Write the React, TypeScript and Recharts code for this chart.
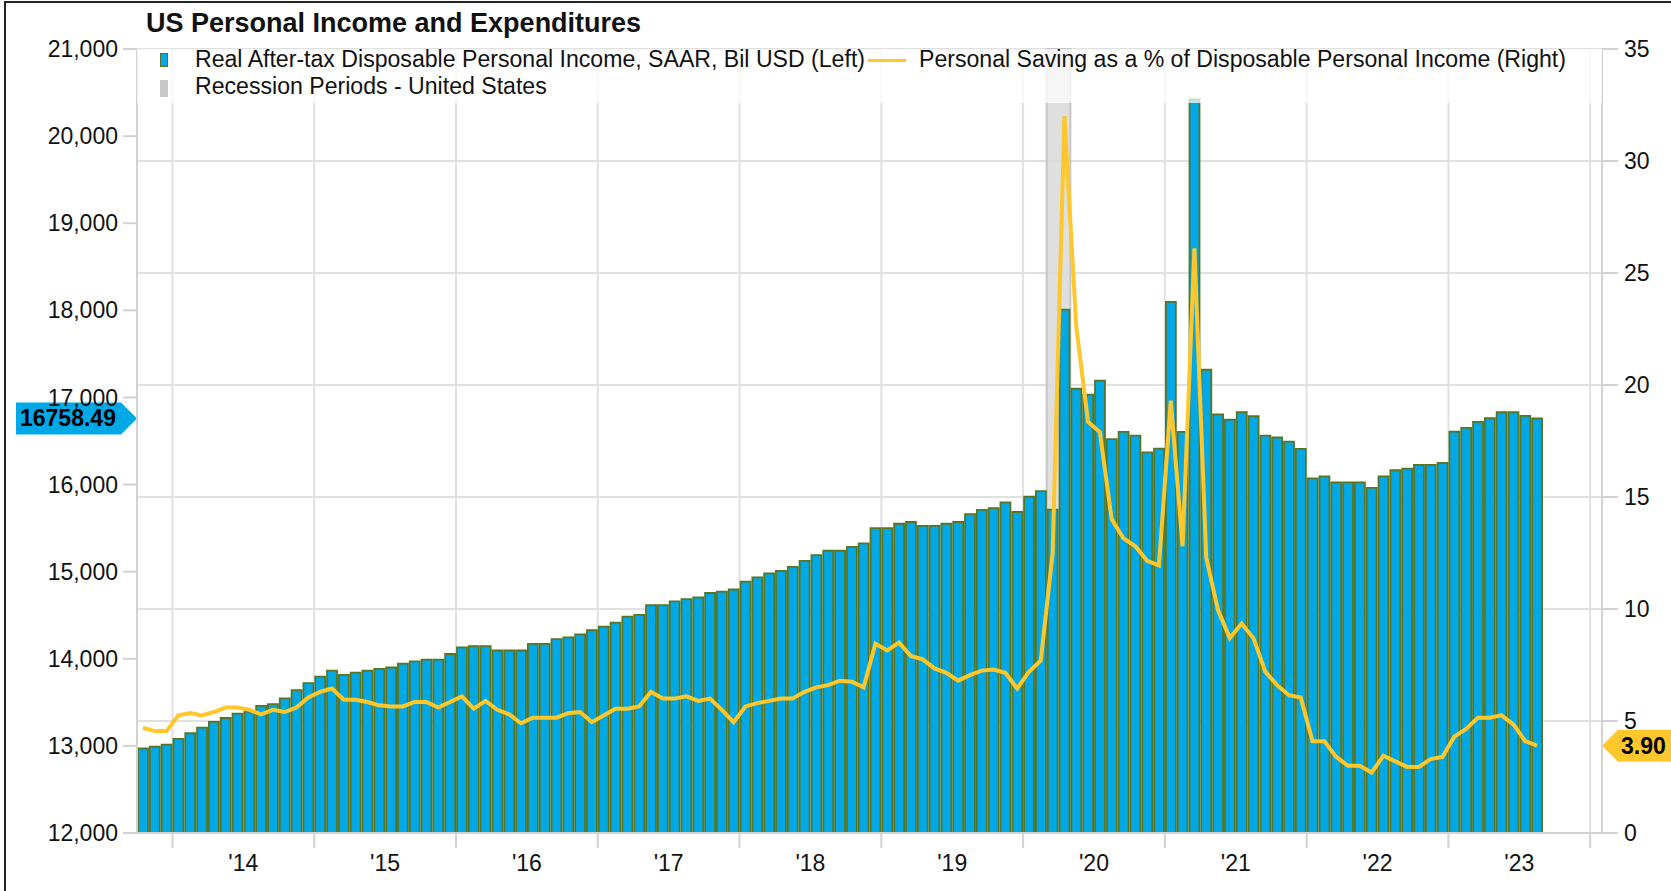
import {
  Bar,
  CartesianGrid,
  ComposedChart,
  Line,
  ReferenceArea,
  ReferenceLine,
  XAxis,
  YAxis,
} from "recharts";

const FONT = '"Liberation Sans", Arial, Helvetica, sans-serif';

// monthly series, first bar is Oct 2013, last is Aug 2023
const START_YEAR = 2013;
const START_MONTH = 10;

// Real after-tax disposable personal income, SAAR, bil USD (left axis)
const incomeValues = [
  12970, 12990, 13015,
  13080, 13145, 13210, 13275, 13320, 13370, 13390, 13460, 13480, 13545, 13640, 13720,
  13795, 13865, 13815, 13840, 13865, 13885, 13900, 13945, 13970, 13990, 13990, 14055,
  14130, 14145, 14145, 14095, 14095, 14095, 14170, 14170, 14225, 14245, 14280, 14330,
  14370, 14415, 14485, 14505, 14615, 14615, 14660, 14685, 14705, 14755, 14770, 14795,
  14885, 14935, 14980, 15010, 15055, 15125, 15190, 15240, 15240, 15285, 15325, 15500,
  15500, 15550, 15570, 15525, 15525, 15550, 15570, 15660, 15710, 15730, 15795, 15685,
  15860, 15925, 15713, 18009, 17100, 17033, 17192, 16522, 16605, 16561, 16369, 16412,
  18096, 16605, 20420, 17318, 16806, 16745, 16832, 16784, 16561, 16540, 16493, 16409,
  16072, 16095, 16026, 16026, 16026, 15961, 16095, 16164, 16183, 16225, 16225, 16248,
  16607, 16650, 16719, 16761, 16830, 16830, 16788, 16758.49,
];

// Personal saving as % of disposable personal income (right axis)
const savingValues = [
  4.7, 4.55, 4.55,
  5.25, 5.35, 5.25, 5.4, 5.6, 5.6, 5.5, 5.3, 5.5, 5.4, 5.6, 6.05,
  6.3, 6.45, 5.95, 5.95, 5.85, 5.7, 5.65, 5.65, 5.85, 5.85, 5.6, 5.85,
  6.1, 5.55, 5.9, 5.5, 5.3, 4.9, 5.15, 5.15, 5.15, 5.35, 5.4, 4.95,
  5.25, 5.55, 5.55, 5.65, 6.3, 6.0, 6.0, 6.1, 5.9, 6.0, 5.5, 4.95,
  5.65, 5.8, 5.9, 6.0, 6.0, 6.3, 6.5, 6.6, 6.8, 6.75, 6.5, 8.45,
  8.15, 8.5, 7.9, 7.75, 7.35, 7.15, 6.8, 7.05, 7.25, 7.3, 7.15, 6.45,
  7.2, 7.7, 12.5, 32.0, 22.6, 18.35, 17.9, 14.0, 13.15, 12.8, 12.15, 11.95,
  19.3, 12.8, 26.1, 12.3, 9.95, 8.7, 9.35, 8.7, 7.2, 6.6, 6.15, 6.05,
  4.1, 4.1, 3.4, 3.0, 3.0, 2.7, 3.45, 3.2, 2.95, 2.95, 3.3, 3.4,
  4.3, 4.65, 5.15, 5.15, 5.25, 4.85, 4.1, 3.9,
];

const leftTicks = [12000, 13000, 14000, 15000, 16000, 17000, 18000, 19000, 20000, 21000];
const rightTicks = [0, 5, 10, 15, 20, 25, 30, 35];
const yearLabels = ["'14", "'15", "'16", "'17", "'18", "'19", "'20", "'21", "'22", "'23"];

// shaded recession months
const recessionMonths = ["2020-03", "2020-04"];

// the time axis runs a few months past the last bar
const AXIS_MONTHS = 124;

const W = 1671;
const H = 891;
const TOP = 49;
const LEFT_W = 137;
const RIGHT_W = 69;
const X_AXIS_H = 58;
const MONTH_PX = (W - LEFT_W - RIGHT_W) / AXIS_MONTHS;

const monthKeys = incomeValues.map((_, i) => {
  const m = START_MONTH - 1 + i;
  return `${START_YEAR + Math.floor(m / 12)}-${String((m % 12) + 1).padStart(2, "0")}`;
});

const data = incomeValues.map((income, i) => ({
  x: i + 0.5,
  month: monthKeys[i],
  income,
  saving: savingValues[i],
}));

const firstJan = 12 - START_MONTH + 1;
const yearStarts = [
  ...yearLabels.map((_, i) => firstJan + 12 * i),
  firstJan + 12 * yearLabels.length,
];

const recessionFrom = monthKeys.indexOf(recessionMonths[0]);
const recessionTo = monthKeys.indexOf(recessionMonths[recessionMonths.length - 1]) + 1;

const lastIncome = incomeValues[incomeValues.length - 1];
const lastSaving = savingValues[savingValues.length - 1];

const BLUE = "#00a9e6";
const OLIVE = "#567526";
const YELLOW = "#ffc72c";
const GRID = "#e0e0e0";
const AXIS = "#d2d2d2";

function YearTick(props: any) {
  const { x, y, payload } = props;
  const label = yearLabels[yearStarts.indexOf(payload.value)];
  if (!label) return null;
  return (
    <text
      x={x + MONTH_PX * 6}
      y={y + 21}
      textAnchor="middle"
      fontSize={23}
      fontFamily={FONT}
      fill="#111"
    >
      {label}
    </text>
  );
}

function LeftBadge(props: any) {
  const { viewBox } = props;
  const x = viewBox.x;
  const y = viewBox.y;
  const pts = `${x - 121},${y - 16} ${x - 16},${y - 16} ${x},${y} ${x - 16},${y + 16} ${x - 121},${y + 16}`;
  return (
    <g>
      <polygon points={pts} fill={BLUE} />
      <text x={x - 117} y={y + 8} fontSize={23} fontWeight="bold" fontFamily={FONT} fill="#000">
        {lastIncome.toFixed(2)}
      </text>
    </g>
  );
}

function RightBadge(props: any) {
  const { viewBox } = props;
  const x = viewBox.x + viewBox.width;
  const y = viewBox.y;
  const pts = `${x},${y} ${x + 16},${y - 16} ${x + 80},${y - 16} ${x + 80},${y + 16} ${x + 16},${y + 16}`;
  return (
    <g>
      <polygon points={pts} fill={YELLOW} />
      <text x={x + 19} y={y + 8} fontSize={23} fontWeight="bold" fontFamily={FONT} fill="#000">
        {lastSaving.toFixed(2)}
      </text>
    </g>
  );
}

export default function App() {
  const tickStyle = { fontSize: 23, fill: "#111", fontFamily: FONT };
  const legendText = {
    position: "absolute" as const,
    fontSize: 23.1,
    lineHeight: "23px",
    color: "#111",
    whiteSpace: "nowrap" as const,
  };

  return (
    <div
      style={{
        position: "absolute",
        left: 0,
        top: 0,
        width: W,
        height: H,
        background: "#fff",
        fontFamily: FONT,
        overflow: "hidden",
      }}
    >
      <ComposedChart width={W} height={H} data={data} margin={{ top: TOP, right: 0, bottom: 0, left: 0 }}>
        <CartesianGrid yAxisId="right" stroke={GRID} strokeWidth={2} />
        <XAxis
          type="number"
          dataKey="x"
          domain={[0, AXIS_MONTHS]}
          ticks={yearStarts}
          interval={0}
          height={X_AXIS_H}
          tickSize={15}
          axisLine={{ stroke: AXIS, strokeWidth: 2 }}
          tickLine={{ stroke: AXIS, strokeWidth: 2 }}
          tick={<YearTick />}
        />
        <YAxis
          yAxisId="left"
          width={LEFT_W}
          domain={[12000, 21000]}
          ticks={leftTicks}
          interval={0}
          tickFormatter={(v: number) => v.toLocaleString("en-US")}
          tickSize={14}
          tickMargin={5}
          axisLine={{ stroke: AXIS, strokeWidth: 2 }}
          tickLine={{ stroke: AXIS, strokeWidth: 2 }}
          tick={tickStyle}
        />
        <YAxis
          yAxisId="right"
          orientation="right"
          width={RIGHT_W}
          domain={[0, 35]}
          ticks={rightTicks}
          interval={0}
          tickSize={16}
          tickMargin={6}
          axisLine={{ stroke: AXIS, strokeWidth: 2 }}
          tickLine={{ stroke: AXIS, strokeWidth: 2 }}
          tick={tickStyle}
        />
        <ReferenceArea
          yAxisId="left"
          x1={recessionFrom}
          x2={recessionTo}
          fill="#dcdcdc"
          fillOpacity={0.9}
          stroke="#c6c6c6"
          strokeWidth={2}
        />
        <Bar
          yAxisId="left"
          dataKey="income"
          fill={BLUE}
          stroke={OLIVE}
          strokeWidth={1.8}
          barSize={10}
          isAnimationActive={false}
        />
        <Line
          yAxisId="right"
          dataKey="saving"
          type="linear"
          stroke={YELLOW}
          strokeWidth={4}
          dot={false}
          isAnimationActive={false}
        />
        <ReferenceLine
          yAxisId="left"
          y={lastIncome}
          stroke="none"
          ifOverflow="visible"
          label={(p: any) => <LeftBadge {...p} />}
        />
        <ReferenceLine
          yAxisId="right"
          y={lastSaving}
          stroke="none"
          ifOverflow="visible"
          label={(p: any) => <RightBadge {...p} />}
        />
      </ComposedChart>

      <div
        style={{
          position: "absolute",
          left: 146,
          top: 8,
          fontSize: 27,
          lineHeight: "31px",
          fontWeight: "bold",
          color: "#111",
          whiteSpace: "nowrap",
        }}
      >
        US Personal Income and Expenditures
      </div>

      <div
        style={{
          position: "absolute",
          left: LEFT_W,
          top: TOP,
          width: W - LEFT_W - RIGHT_W,
          height: 54,
          background: "rgba(255,255,255,0.72)",
        }}
      >
        <div style={{ position: "absolute", left: 23, top: 4, width: 6, height: 12, background: BLUE, border: `1.5px solid ${OLIVE}` }} />
        <div style={{ ...legendText, left: 58, top: -1 }}>
          Real After-tax Disposable Personal Income, SAAR, Bil USD (Left)
        </div>
        <div style={{ position: "absolute", left: 731, top: 10, width: 38, height: 3, background: YELLOW }} />
        <div style={{ ...legendText, left: 782, top: -1 }}>
          Personal Saving as a % of Disposable Personal Income (Right)
        </div>
        <div style={{ position: "absolute", left: 23, top: 31, width: 8, height: 17, background: "#c8c8c8" }} />
        <div style={{ ...legendText, left: 58, top: 26 }}>Recession Periods - United States</div>
      </div>

      <div
        style={{
          position: "absolute",
          left: 4,
          top: 1,
          width: W,
          height: H,
          borderLeft: "2px solid #222",
          borderTop: "2px solid #222",
          pointerEvents: "none",
        }}
      />
    </div>
  );
}
